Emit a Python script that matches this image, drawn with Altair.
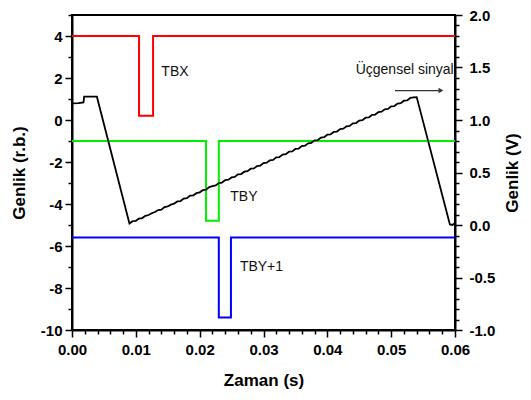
import altair as alt
import pandas as pd

# ---------------- data ----------------
# square pulse signals (left axis, r.b.)
red_t = [0.0, 0.0105, 0.0105, 0.0127, 0.0127, 0.06]
red_v = [4.0, 4.0, 0.2, 0.2, 4.0, 4.0]
green_t = [0.0, 0.0210, 0.0210, 0.0230, 0.0230, 0.06]
green_v = [-1.0, -1.0, -4.8, -4.8, -1.0, -1.0]
blue_t = [0.0, 0.0230, 0.0230, 0.0249, 0.0249, 0.06]
blue_v = [-5.6, -5.6, -9.4, -9.4, -5.6, -5.6]

# triangular signal (right axis, V)
tri_t = [0.0, 0.0010, 0.0018, 0.0019, 0.0039,
         0.0090, 0.0095, 0.0100, 0.0105, 0.0110, 0.0115, 0.0120, 0.0125, 0.0130, 0.0135,
         0.0140, 0.0145, 0.0150, 0.0155, 0.0160, 0.0165, 0.0170, 0.0175, 0.0180, 0.0185,
         0.0190, 0.0195, 0.0200, 0.0205, 0.0210, 0.0215, 0.0220, 0.0225, 0.0230, 0.0235,
         0.0240, 0.0245, 0.0250, 0.0255, 0.0260, 0.0265, 0.0270, 0.0275, 0.0280, 0.0285,
         0.0290, 0.0295, 0.0300, 0.0305, 0.0310, 0.0315, 0.0320, 0.0325, 0.0330, 0.0335,
         0.0340, 0.0345, 0.0350, 0.0355, 0.0360, 0.0365, 0.0370, 0.0375, 0.0380, 0.0385,
         0.0390, 0.0395, 0.0400, 0.0405, 0.0410, 0.0415, 0.0420, 0.0425, 0.0430, 0.0435,
         0.0440, 0.0445, 0.0450, 0.0455, 0.0460, 0.0465, 0.0470, 0.0475, 0.0480, 0.0485,
         0.0490, 0.0495, 0.0500, 0.0505, 0.0510, 0.0515, 0.0520, 0.0525, 0.0530, 0.0535,
         0.0540, 0.0592, 0.0596, 0.0600]
tri_v = [1.158, 1.160, 1.168, 1.222, 1.222,
         0.014, 0.036, 0.040, 0.062, 0.066, 0.088, 0.095, 0.112, 0.124, 0.142,
         0.146, 0.170, 0.177, 0.194, 0.204, 0.224, 0.228, 0.251, 0.255, 0.280,
         0.283, 0.303, 0.311, 0.332, 0.337, 0.361, 0.370, 0.377, 0.400, 0.404,
         0.428, 0.431, 0.453, 0.458, 0.482, 0.485, 0.508, 0.512, 0.536, 0.539,
         0.562, 0.566, 0.590, 0.593, 0.616, 0.620, 0.644, 0.647, 0.670, 0.675,
         0.698, 0.701, 0.724, 0.728, 0.752, 0.756, 0.778, 0.783, 0.806, 0.809,
         0.832, 0.836, 0.860, 0.863, 0.886, 0.890, 0.914, 0.917, 0.940, 0.944,
         0.968, 0.971, 0.994, 0.998, 1.022, 1.025, 1.048, 1.052, 1.076, 1.079,
         1.102, 1.106, 1.130, 1.133, 1.156, 1.160, 1.184, 1.187, 1.210, 1.216,
         1.218, 0.005, 0.000, 0.020]

# annotations
lab_text = ["TBX", "TBY", "TBY+1"]
lab_t = [0.0140, 0.0248, 0.0263]
lab_v = [2.3, -3.65, -7.0]

tri_label = "Üçgensel sinyal"
tri_label_t = 0.0598
tri_label_v = 1.48
arrow_t = [0.0506, 0.0578]
arrow_v = 1.28

x_ticks = [0.0, 0.002, 0.004, 0.006, 0.008, 0.01, 0.012, 0.014, 0.016, 0.018,
           0.02, 0.022, 0.024, 0.026, 0.028, 0.03, 0.032, 0.034, 0.036, 0.038,
           0.04, 0.042, 0.044, 0.046, 0.048, 0.05, 0.052, 0.054, 0.056, 0.058, 0.06]
yl_ticks = [-10, -9, -8, -7, -6, -5, -4, -3, -2, -1, 0, 1, 2, 3, 4, 5]
yr_ticks = [-1.0, -0.9, -0.8, -0.7, -0.6, -0.5, -0.4, -0.3, -0.2, -0.1, 0.0,
            0.1, 0.2, 0.3, 0.4, 0.5, 0.6, 0.7, 0.8, 0.9, 1.0,
            1.1, 1.2, 1.3, 1.4, 1.5, 1.6, 1.7, 1.8, 1.9, 2.0]

# ---------------- tables ----------------
rows = []
for name, ts, vs in [("red", red_t, red_v), ("green", green_t, green_v), ("blue", blue_t, blue_v)]:
    for i, (t, v) in enumerate(zip(ts, vs)):
        rows.append({"t": t, "v": v, "s": name, "o": i})
sig = pd.DataFrame(rows)
tri = pd.DataFrame({"t": tri_t, "v": tri_v, "o": list(range(len(tri_t)))})
labs = pd.DataFrame({"t": lab_t, "v": lab_v, "txt": lab_text})
tlab = pd.DataFrame({"t": [tri_label_t], "v": [tri_label_v], "txt": [tri_label]})
arr = pd.DataFrame({"t": [arrow_t[0]], "t2": [arrow_t[1]], "v": [arrow_v]})
arrhead = pd.DataFrame({"t": [arrow_t[1]], "v": [arrow_v]})

FONT = "Liberation Sans"
MAJ = 7
MIN = 4

x_test = "abs(datum.value*100 - round(datum.value*100)) < 0.001"
x_axis = alt.Axis(
    values=x_ticks, title="Zaman (s)", grid=False,
    labelExpr=x_test + " ? format(datum.value, '.2f') : ''",
    tickSize={"condition": {"test": x_test, "value": MAJ}, "value": MIN},
    labelOverlap=False, labelFlush=False, labelPadding=5,
    titlePadding=15,
)
xs = alt.Scale(domain=[0, 0.06], nice=False, zero=False)


def X(field="t"):
    return alt.X(f"{field}:Q", scale=xs, axis=x_axis)


ys_l = alt.Scale(domain=[-10, 5], nice=False, zero=False)
ys_r = alt.Scale(domain=[-1, 2], nice=False, zero=False)

l_test = "datum.value % 2 == 0"
left_axis = alt.Axis(
    values=yl_ticks, title="Genlik (r.b.)", grid=False, orient="left",
    labelExpr=l_test + " ? '' + datum.value : ''",
    tickSize={"condition": {"test": l_test, "value": MAJ}, "value": MIN},
    labelOverlap=False, labelFlush=False, labelPadding=3, titlePadding=12,
)
r_test = "abs(datum.value*2 - round(datum.value*2)) < 0.001"
right_axis = alt.Axis(
    values=yr_ticks, title="Genlik (V)", grid=False, orient="right",
    labelExpr=r_test + " ? ((datum.value < -0.001 ? '-' : '') + format(abs(datum.value), '.1f')) : ''",
    tickSize={"condition": {"test": r_test, "value": MAJ}, "value": MIN},
    labelOverlap=False, labelFlush=False, labelPadding=7, titlePadding=10,
    titleAngle=270, titleBaseline="top",
)

sig_layer = alt.Chart(sig).mark_line(strokeWidth=2, interpolate="linear").encode(
    x=X(),
    y=alt.Y("v:Q", scale=ys_l, axis=left_axis),
    color=alt.Color("s:N", scale=alt.Scale(domain=["red", "green", "blue"],
                                           range=["#ff0000", "#00ee00", "#0000ff"]), legend=None),
    order="o:Q",
    detail="s:N",
)

tri_layer = alt.Chart(tri).mark_line(strokeWidth=1.8, color="black").encode(
    x=X(),
    y=alt.Y("v:Q", scale=ys_r, axis=right_axis),
    order="o:Q",
)

lab_layer = alt.Chart(labs).mark_text(align="left", baseline="middle", fontSize=14,
                                      font=FONT, color="#111111").encode(
    x=X(),
    y=alt.Y("v:Q", scale=ys_l, axis=None),
    text="txt:N",
)

tlab_layer = alt.Chart(tlab).mark_text(align="right", baseline="middle", fontSize=14,
                                       font=FONT, color="#111111").encode(
    x=X(),
    y=alt.Y("v:Q", scale=ys_r, axis=None),
    text="txt:N",
)

arrow_layer = alt.Chart(arr).mark_rule(color="#333333", strokeWidth=1.3).encode(
    x=X(),
    x2="t2:Q",
    y=alt.Y("v:Q", scale=ys_r, axis=None),
)

head_layer = alt.Chart(arrhead).mark_point(shape="triangle-right", filled=True, size=30,
                                           color="#333333", opacity=1).encode(
    x=X(),
    y=alt.Y("v:Q", scale=ys_r, axis=None),
)

chart = alt.layer(
    sig_layer, tri_layer, lab_layer, tlab_layer, arrow_layer, head_layer
).resolve_scale(y="independent").properties(
    width=383, height=315,
    autosize=alt.AutoSizeParams(type="none"),
    padding={"left": 64, "top": 7, "right": 68, "bottom": 62},
).configure_view(
    stroke="black", strokeWidth=2,
).configure_axis(
    domainColor="black", domainWidth=2, tickColor="black", tickWidth=1.5,
    labelFont=FONT, labelFontSize=15, labelFontWeight="bold", labelColor="black",
    titleFont=FONT, titleFontSize=17, titleFontWeight="bold", titleColor="black",
)

chart.save("out.html", embed_options={"renderer": "svg", "actions": False})
